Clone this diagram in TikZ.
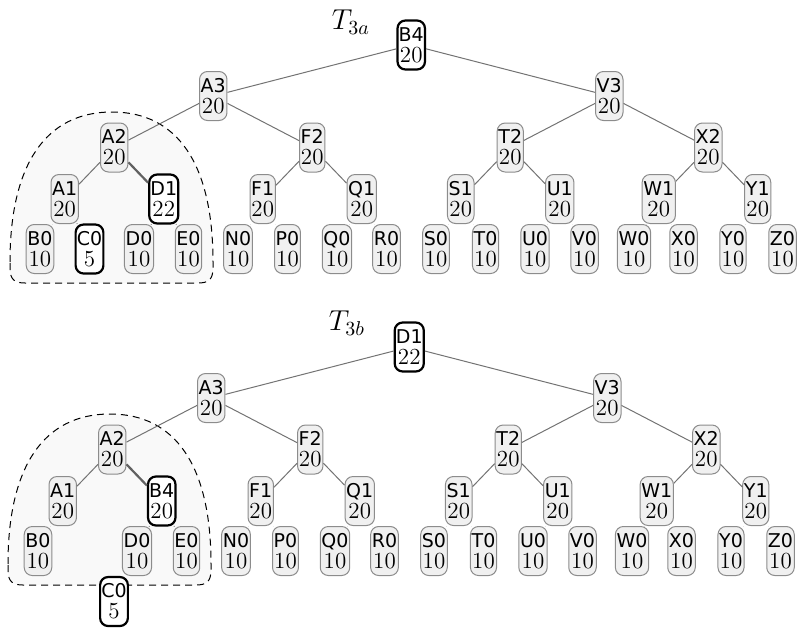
\documentclass[tikz,border=0pt]{standalone}
\usepackage{fontspec}
\newfontfamily\labfont{DejaVu Sans}
\newcommand\lab[1]{{\labfont\fontsize{9.5}{10.5}\selectfont #1}}
\begin{document}
\begin{tikzpicture}[x=0.5pt,y=-0.5pt,
  nd/.style={rectangle, rounded corners=4pt, draw=black!45, fill=black!6, line width=0.5pt,
    align=center, inner xsep=0.6pt, inner ysep=0pt, minimum height=24.5pt, minimum width=12pt,
    font=\fontsize{11.5}{10.5}\selectfont},
  hl/.style={nd, draw=black, fill=white, line width=1.1pt},
  edgeline/.style={draw=black!55, line width=0.5pt},
  thickedge/.style={draw=black!62, line width=1.1pt},
  region/.style={draw=black, dash pattern=on 3.5pt off 2.5pt, line width=0.5pt, fill=black!2.5},
  title/.style={font=\fontsize{14}{16}\selectfont, inner sep=0pt}]
\useasboundingbox (0,0) rectangle (797,627);

% ---------------- top tree ----------------
\begin{scope}
\draw[region] (10,262) .. controls (10,164.5) and (45.7,112) .. (112,112)
  .. controls (178,112) and (213,164.5) .. (213,262) -- (213,268)
  .. controls (213,280) and (208,283) .. (198,283) -- (25,283)
  .. controls (15,283) and (10,280) .. (10,268) -- cycle;
\node[title] (ta) at (351,22) {$T_{3a}$};
\node[hl] (tB4) at (411.25,45) {\lab{B4}\\20};
\node[nd] (tA3) at (213.25,96) {\lab{A3}\\20};
\node[nd] (tV3) at (609.25,96) {\lab{V3}\\20};
\node[nd] (tA2) at (114.25,147.5) {\lab{A2}\\20};
\node[nd] (tF2) at (312.25,147.5) {\lab{F2}\\20};
\node[nd] (tT2) at (510.25,147.5) {\lab{T2}\\20};
\node[nd] (tX2) at (708.25,147.5) {\lab{X2}\\20};
\node[nd] (tA1) at (64.75,199) {\lab{A1}\\20};
\node[hl] (tD1) at (163.75,199) {\lab{D1}\\22};
\node[nd] (tF1) at (262.75,199) {\lab{F1}\\20};
\node[nd] (tQ1) at (361.75,199) {\lab{Q1}\\20};
\node[nd] (tS1) at (460.75,199) {\lab{S1}\\20};
\node[nd] (tU1) at (559.75,199) {\lab{U1}\\20};
\node[nd] (tW1) at (658.75,199) {\lab{W1}\\20};
\node[nd] (tY1) at (757.75,199) {\lab{Y1}\\20};
\node[nd] (tB0) at (40,249) {\lab{B0}\\10};
\node[hl] (tC0) at (89.5,249) {\lab{C0}\\5};
\node[nd] (tD0) at (139,249) {\lab{D0}\\10};
\node[nd] (tE0) at (188.5,249) {\lab{E0}\\10};
\node[nd] (tN0) at (238,249) {\lab{N0}\\10};
\node[nd] (tP0) at (287.5,249) {\lab{P0}\\10};
\node[nd] (tQ0) at (337,249) {\lab{Q0}\\10};
\node[nd] (tR0) at (386.5,249) {\lab{R0}\\10};
\node[nd] (tS0) at (436,249) {\lab{S0}\\10};
\node[nd] (tT0) at (485.5,249) {\lab{T0}\\10};
\node[nd] (tU0) at (535,249) {\lab{U0}\\10};
\node[nd] (tV0) at (584.5,249) {\lab{V0}\\10};
\node[nd] (tW0) at (634,249) {\lab{W0}\\10};
\node[nd] (tX0) at (683.5,249) {\lab{X0}\\10};
\node[nd] (tY0) at (733,249) {\lab{Y0}\\10};
\node[nd] (tZ0) at (782.5,249) {\lab{Z0}\\10};
\foreach \p/\c in {tB4/tA3, tB4/tV3, tA3/tA2, tA3/tF2, tV3/tT2, tV3/tX2,
  tA2/tA1, tF2/tF1, tF2/tQ1, tT2/tS1, tT2/tU1, tX2/tW1, tX2/tY1,
  tA1/tB0, tA1/tC0, tD1/tD0, tD1/tE0, tF1/tN0, tF1/tP0, tQ1/tQ0, tQ1/tR0,
  tS1/tS0, tS1/tT0, tU1/tU0, tU1/tV0, tW1/tW0, tW1/tX0, tY1/tY0, tY1/tZ0}
  \draw[edgeline] (\p) -- (\c);
\draw[thickedge] (tA2) -- (tD1);
\end{scope}

% ---------------- bottom tree ----------------
\begin{scope}[shift={(-2,302)}]
\draw[region] (10,262) .. controls (10,164.5) and (45.7,112) .. (112,112)
  .. controls (178,112) and (213,164.5) .. (213,262) -- (213,268)
  .. controls (213,280) and (208,283) .. (198,283) -- (25,283)
  .. controls (15,283) and (10,280) .. (10,268) -- cycle;
\node[title] (tb) at (349,21) {$T_{3b}$};
\node[hl] (bD1) at (411.25,45) {\lab{D1}\\22};
\node[nd] (bA3) at (213.25,96) {\lab{A3}\\20};
\node[nd] (bV3) at (609.25,96) {\lab{V3}\\20};
\node[nd] (bA2) at (114.25,147.5) {\lab{A2}\\20};
\node[nd] (bF2) at (312.25,147.5) {\lab{F2}\\20};
\node[nd] (bT2) at (510.25,147.5) {\lab{T2}\\20};
\node[nd] (bX2) at (708.25,147.5) {\lab{X2}\\20};
\node[nd] (bA1) at (64.75,199) {\lab{A1}\\20};
\node[hl] (bB4) at (163.75,199) {\lab{B4}\\20};
\node[nd] (bF1) at (262.75,199) {\lab{F1}\\20};
\node[nd] (bQ1) at (361.75,199) {\lab{Q1}\\20};
\node[nd] (bS1) at (460.75,199) {\lab{S1}\\20};
\node[nd] (bU1) at (559.75,199) {\lab{U1}\\20};
\node[nd] (bW1) at (658.75,199) {\lab{W1}\\20};
\node[nd] (bY1) at (757.75,199) {\lab{Y1}\\20};
\node[nd] (bB0) at (40,249) {\lab{B0}\\10};
\node[nd] (bD0) at (139,249) {\lab{D0}\\10};
\node[nd] (bE0) at (188.5,249) {\lab{E0}\\10};
\node[nd] (bN0) at (238,249) {\lab{N0}\\10};
\node[nd] (bP0) at (287.5,249) {\lab{P0}\\10};
\node[nd] (bQ0) at (337,249) {\lab{Q0}\\10};
\node[nd] (bR0) at (386.5,249) {\lab{R0}\\10};
\node[nd] (bS0) at (436,249) {\lab{S0}\\10};
\node[nd] (bT0) at (485.5,249) {\lab{T0}\\10};
\node[nd] (bU0) at (535,249) {\lab{U0}\\10};
\node[nd] (bV0) at (584.5,249) {\lab{V0}\\10};
\node[nd] (bW0) at (634,249) {\lab{W0}\\10};
\node[nd] (bX0) at (683.5,249) {\lab{X0}\\10};
\node[nd] (bY0) at (733,249) {\lab{Y0}\\10};
\node[nd] (bZ0) at (782.5,249) {\lab{Z0}\\10};
\node[hl] (bC0) at (116,299.5) {\lab{C0}\\5};
\foreach \p/\c in {bD1/bA3, bD1/bV3, bA3/bA2, bA3/bF2, bV3/bT2, bV3/bX2,
  bA2/bA1, bF2/bF1, bF2/bQ1, bT2/bS1, bT2/bU1, bX2/bW1, bX2/bY1,
  bA1/bB0, bB4/bD0, bB4/bE0, bF1/bN0, bF1/bP0, bQ1/bQ0, bQ1/bR0,
  bS1/bS0, bS1/bT0, bU1/bU0, bU1/bV0, bW1/bW0, bW1/bX0, bY1/bY0, bY1/bZ0}
  \draw[edgeline] (\p) -- (\c);
\draw[thickedge] (bA2) -- (bB4);
\end{scope}
\end{tikzpicture}
\end{document}
